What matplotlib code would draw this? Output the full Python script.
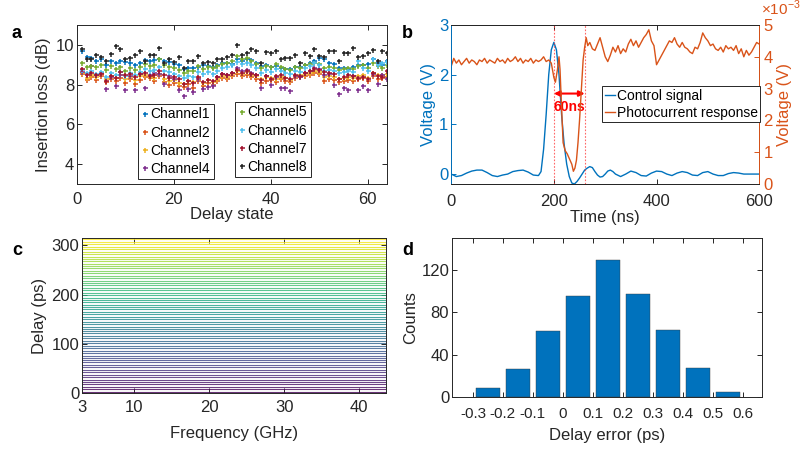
import numpy as np
import matplotlib
matplotlib.use("Agg")
import matplotlib.pyplot as plt

plt.rcParams['font.family'] = ['Liberation Sans', 'DejaVu Sans']
plt.rcParams['axes.unicode_minus'] = False
plt.rcParams['mathtext.fontset'] = 'custom'
plt.rcParams['mathtext.rm'] = 'Liberation Sans'

# ---- panel a : insertion loss of 8 channels over 64 delay states ----
ch1 = [9.7, 9.4, 9.35, 9.2, 9.3, 9.0, 9.2, 9.1, 9.2, 9.15, 9.1, 9.0, 9.1, 9.25, 9.2, 9.25,
       9.3, 9.2, 9.15, 9.05, 9.0, 8.8, 8.85, 8.85, 8.9, 9.0, 8.95, 8.9, 9.0, 9.1, 9.1, 9.05,
       9.3, 9.2, 9.3, 9.25, 9.1, 8.95, 9.0, 8.9, 8.95, 8.85, 8.8, 8.8, 8.9, 8.9, 9.0, 9.1,
       9.2, 9.35, 9.3, 9.1, 9.05, 8.85, 8.85, 8.8, 8.9, 9.0, 9.0, 9.05, 9.3, 9.1, 9.0, 9.2]
ch2 = [8.55, 8.25, 8.4, 8.25, 8.45, 8.15, 8.3, 8.2, 8.35, 8.1, 8.3, 8.05, 8.25, 8.4, 8.35, 8.2,
       8.45, 8.15, 8.0, 8.1, 7.95, 7.9, 8.05, 7.85, 8.2, 7.95, 8.1, 8.0, 8.2, 8.35, 8.3, 8.45,
       8.55, 8.45, 8.5, 8.4, 8.3, 8.1, 8.2, 8.25, 8.15, 8.3, 8.2, 8.15, 8.35, 8.4, 8.45, 8.5,
       8.6, 8.55, 8.2, 8.3, 8.25, 8.15, 8.2, 8.25, 8.2, 8.3, 8.35, 8.2, 8.45, 8.3, 8.35, 8.4]
ch3 = [8.6, 8.35, 8.5, 8.4, 8.55, 8.3, 8.45, 8.35, 8.5, 8.3, 8.4, 8.25, 8.45, 8.5, 8.4, 8.35,
       8.55, 8.3, 8.2, 8.25, 8.1, 8.05, 8.2, 8.15, 8.35, 8.1, 8.25, 8.15, 8.3, 8.45, 8.4, 8.55,
       8.7, 8.55, 8.65, 8.5, 8.45, 8.3, 8.4, 8.35, 8.3, 8.4, 8.35, 8.25, 8.45, 8.5, 8.55, 8.6,
       8.7, 8.65, 8.4, 8.45, 8.4, 8.3, 8.35, 8.4, 8.35, 8.45, 8.5, 8.35, 8.6, 8.5, 8.5, 8.55]
ch4 = [8.65, 8.55, 8.95, 8.5, 8.6, 7.8, 8.4, 7.95, 8.5, 7.75, 8.45, 7.75, 8.55, 7.85, 8.5, 8.6,
       8.55, 8.05, 8.45, 8.3, 7.75, 7.45, 7.8, 7.62, 8.3, 7.8, 7.9, 7.95, 8.4, 8.55, 8.5, 8.6,
       8.85, 8.7, 8.75, 8.6, 8.5, 7.85, 8.45, 8.0, 8.4, 7.85, 7.85, 7.7, 8.45, 8.4, 8.6, 8.7,
       8.85, 8.8, 8.5, 8.55, 8.0, 7.55, 7.85, 7.75, 8.45, 7.75, 7.95, 7.75, 8.55, 8.05, 8.5, 8.3]
ch5 = [9.1, 8.9, 8.95, 8.9, 9.0, 8.75, 8.95, 8.8, 8.9, 8.7, 8.85, 8.75, 8.9, 9.05, 8.95, 9.0,
       9.3, 9.0, 8.9, 8.85, 8.75, 8.6, 8.7, 8.7, 8.95, 8.8, 8.9, 8.85, 8.95, 9.05, 9.1, 9.2,
       9.45, 9.3, 9.35, 9.2, 9.05, 8.85, 8.95, 8.9, 9.05, 8.9, 8.8, 8.75, 8.9, 8.85, 9.0, 9.05,
       9.1, 9.05, 8.85, 8.9, 8.85, 8.75, 8.8, 8.85, 8.8, 8.95, 9.0, 8.85, 9.1, 8.95, 8.85, 9.0]
ch6 = [8.75, 8.6, 8.7, 8.55, 8.65, 8.4, 8.6, 8.5, 8.65, 8.45, 8.6, 8.5, 8.65, 8.8, 8.7, 8.75,
       8.9, 8.7, 8.65, 8.55, 8.45, 8.35, 8.45, 8.4, 8.65, 8.55, 8.65, 8.55, 8.7, 8.85, 8.9, 9.0,
       9.15, 9.05, 9.1, 9.0, 8.85, 8.6, 8.75, 8.65, 8.8, 8.7, 8.6, 8.55, 8.7, 8.65, 8.85, 8.95,
       9.1, 9.0, 8.7, 8.75, 8.7, 8.6, 8.65, 8.7, 8.65, 9.2, 8.85, 8.7, 9.3, 9.0, 9.1, 9.15]
ch7 = [8.8, 8.5, 8.6, 8.5, 8.55, 8.2, 8.45, 8.35, 8.65, 8.5, 8.55, 8.4, 8.55, 8.6, 8.45, 8.5,
       8.7, 8.5, 8.35, 8.4, 8.3, 8.05, 8.2, 8.1, 8.4, 8.15, 8.25, 8.2, 8.4, 8.55, 8.5, 8.6,
       8.75, 8.6, 8.7, 8.55, 8.5, 8.25, 8.45, 8.3, 8.45, 8.5, 8.35, 8.3, 8.5, 8.45, 8.6, 8.7,
       8.8, 8.75, 8.65, 8.6, 8.55, 8.3, 8.4, 8.5, 8.45, 8.35, 8.4, 8.3, 8.6, 8.45, 8.4, 8.7]
ch8 = [9.78, 9.28, 9.3, 9.5, 9.4, 9.2, 9.55, 9.95, 9.8, 9.28, 9.35, 9.5, 9.7, 9.2, 9.5, 9.5,
       9.83, 9.1, 9.28, 9.15, 9.4, 8.84, 9.2, 9.2, 9.45, 9.1, 9.15, 9.1, 9.28, 9.3, 9.4, 9.5,
       10.0, 9.5, 9.6, 9.78, 9.7, 9.1, 9.65, 9.6, 9.7, 9.28, 9.35, 9.35, 9.5, 9.1, 9.57, 9.45,
       9.78, 9.45, 9.4, 9.7, 9.7, 9.2, 9.6, 9.57, 9.85, 9.4, 9.45, 9.6, 9.75, 9.2, 9.7, 9.6]
channels = [ch1, ch2, ch3, ch4, ch5, ch6, ch7, ch8]
ch_names = ['Channel1', 'Channel2', 'Channel3', 'Channel4',
            'Channel5', 'Channel6', 'Channel7', 'Channel8']
ch_colors = ['#0072BD', '#D95319', '#EDB120', '#7E2F8E',
             '#77AC30', '#4DBEEE', '#A2142F', '#262626']

# ---- panel b : control signal and photocurrent response ----
t_ctrl = [0, 10, 20, 30, 40, 50, 60, 70, 80, 90, 100, 110, 120, 130, 140, 150, 160, 170,
          175, 180, 185, 190, 195, 200, 205, 210, 215, 220, 225, 230, 235, 240, 245, 250,
          255, 260, 265, 270, 275, 280, 285, 290, 295, 300, 305, 310, 315, 320, 330, 340,
          350, 360, 370, 380, 390, 400, 410, 420, 430, 440, 450, 460, 470, 480, 490, 500,
          510, 520, 530, 540, 550, 560, 570, 580, 590, 600]
v_ctrl = [0.0, -0.05, -0.03, 0.02, 0.06, 0.08, 0.08, 0.03, -0.03, -0.05, -0.02, 0.0, 0.05,
          0.07, 0.08, 0.04, -0.02, -0.03, 0.05, 0.5, 1.2, 2.0, 2.5, 2.65, 2.5, 2.0, 1.2, 0.6,
          0.2, -0.05, -0.18, -0.2, -0.15, -0.08, 0.0, 0.08, 0.12, 0.15, 0.13, 0.05, -0.02,
          -0.06, -0.05, 0.0, 0.06, 0.08, 0.05, 0.0, -0.05, 0.0, 0.06, 0.03, -0.03, -0.04,
          0.02, 0.06, 0.05, 0.0, -0.03, 0.02, 0.05, 0.03, -0.02, -0.03, 0.03, 0.05, 0.0,
          -0.03, -0.03, 0.01, 0.03, 0.02, 0.0, 0.0, 0.0, 0.0]

t_ph = [0, 5, 10, 15, 20, 25, 30, 35, 40, 45, 50, 55, 60, 65, 70, 75, 80, 85, 90, 95,
        100, 105, 110, 115, 120, 125, 130, 135, 140, 145, 150, 155, 160, 165, 170, 175,
        180, 185, 190, 195, 200, 203, 207, 210, 212, 215, 218, 222, 226, 230, 235, 238,
        241, 244, 247, 250, 254, 257, 260, 263, 266,
        270, 275, 280, 285, 290, 295, 300, 305, 310, 315, 320, 325, 330, 335, 340, 345,
        350, 355, 360, 365, 370, 375, 380, 385, 390, 395, 400, 405, 410, 415, 420, 425,
        430, 435, 440, 445, 450, 455, 460, 465, 470, 475, 480, 485, 490, 495, 500, 505,
        510, 515, 520, 525, 530, 535, 540, 545, 550, 555, 560, 565, 570, 575, 580, 585,
        590, 595, 600]
v_ph = [3.7, 3.95, 3.8, 3.9, 3.75, 3.85, 3.95, 3.8, 3.9, 3.85, 3.75, 3.9, 3.85, 3.95, 3.8,
        3.9, 3.85, 3.8, 3.95, 3.85, 3.9, 3.8, 3.95, 3.85, 3.9, 4.0, 3.85, 3.95, 3.8, 3.9,
        3.85, 3.95, 3.8, 3.9, 3.85, 3.9, 4.0, 3.85, 3.9, 3.8,
        3.35, 3.2, 3.6, 4.0, 3.6, 2.4, 1.3, 1.05, 0.95, 0.8, 0.62, 0.4, 0.5, 0.75, 1.3,
        2.0, 3.1, 3.9, 4.3, 4.6, 4.35,
        4.45, 4.25, 4.2, 4.4, 4.6, 4.3, 4.0, 3.85, 4.05, 4.3, 4.15, 4.35, 4.1, 4.25, 4.15,
        4.4, 4.55, 4.35, 4.5, 4.3, 4.45, 4.6, 4.7, 4.85, 4.5, 4.35, 3.75, 3.9, 4.05, 4.2,
        4.35, 4.5, 4.45, 4.6, 4.4, 4.3, 4.45, 4.3, 4.25, 4.15, 4.1, 4.3, 4.25, 4.45, 4.75,
        4.6, 4.5, 4.35, 4.4, 4.25, 4.2, 4.3, 4.15, 4.35, 4.25, 4.3, 4.2, 4.35, 4.1, 4.25,
        4.0, 4.2, 4.05, 4.15, 4.3, 4.45, 4.4]
marks_ns = [200, 260]

# ---- panel c : delay of every state vs frequency ----
delays = [3, 8, 13, 18, 23, 27, 32, 37, 42, 47, 52, 57, 62, 67, 72, 76, 81, 86, 91, 96,
          101, 106, 111, 116, 121, 126, 130, 135, 140, 145, 150, 155, 160, 165, 170, 175,
          179, 184, 189, 194, 199, 204, 209, 214, 219, 224, 228, 233, 238, 243, 248, 253,
          258, 263, 268, 273, 277, 282, 287, 292, 297, 302, 307, 312]
freq_span = [3, 43.6]

# ---- panel d : delay error histogram ----
err_centers = [-0.25, -0.15, -0.05, 0.05, 0.15, 0.25, 0.35, 0.45, 0.55]
err_counts = [8, 26, 62, 95, 129, 97, 63, 27, 5]

AX = '#262626'
BLUE = '#0072BD'
ORANGE = '#D95319'


def style(ax, top=True, right=True):
    ax.tick_params(direction='in', length=3.5, width=0.7, labelsize=12,
                   colors=AX, top=top, right=right)
    ax.tick_params(axis='y', pad=2)
    ax.tick_params(axis='x', pad=6)
    for s in ax.spines.values():
        s.set_color(AX)
        s.set_linewidth(0.7)


fig = plt.figure(figsize=(8, 4.54), dpi=100)

# a
ax = fig.add_axes([0.096, 0.5947, 0.388, 0.3503])
hs = []
for vals, col, name in zip(channels, ch_colors, ch_names):
    h, = ax.plot(np.arange(1, len(vals) + 1), vals, '+', color=col, ms=3.6, mew=1.1,
                 linestyle='none', label=name)
    hs.append(h)
ax.set_xlim(0, 64)
ax.set_ylim(3, 11)
ax.set_xticks([0, 20, 40, 60])
ax.set_yticks([4, 6, 8, 10])
style(ax)
ax.set_xlabel('Delay state', fontsize=12, color=AX, labelpad=0)
ax.set_ylabel('Insertion loss (dB)', fontsize=12, color=AX, labelpad=3)
leg_kw = dict(fontsize=10, handlelength=0.5, handletextpad=0.15, labelspacing=0.3,
              borderpad=0.25, borderaxespad=0, fancybox=False, framealpha=1,
              edgecolor=AX, markerscale=1.0)
leg1 = ax.legend(handles=hs[:4], loc='upper left', bbox_to_anchor=(0.197, 0.503), **leg_kw)
leg1.get_frame().set_linewidth(0.7)
ax.add_artist(leg1)
leg2 = ax.legend(handles=hs[4:], loc='upper left', bbox_to_anchor=(0.51, 0.516), **leg_kw)
leg2.get_frame().set_linewidth(0.7)
fig.text(0.021, 0.927, 'a', fontsize=13, fontweight='bold', ha='center', va='center')

# b
bx = fig.add_axes([0.564, 0.5947, 0.385, 0.3503])
bx2 = bx.twinx()
l1, = bx.plot(t_ctrl, v_ctrl, color=BLUE, lw=1.0, label='Control signal')
l2, = bx2.plot(t_ph, v_ph, color=ORANGE, lw=1.0, label='Photocurrent response')
bx.set_xlim(0, 600)
bx.set_ylim(-0.2, 3)
bx2.set_ylim(0, 5)
bx.set_xticks([0, 200, 400, 600])
bx.set_yticks([0, 1, 2, 3])
bx2.set_yticks([0, 1, 2, 3, 4, 5])
bx.tick_params(direction='in', length=3.5, width=0.7, labelsize=12, top=True, right=False)
bx.tick_params(axis='x', colors=AX, pad=7)
bx.tick_params(axis='y', colors=BLUE, pad=2)
bx2.tick_params(direction='in', length=3.5, width=0.7, labelsize=12, colors=ORANGE, pad=3)
for s in list(bx.spines.values()) + list(bx2.spines.values()):
    s.set_color(AX)
    s.set_linewidth(0.7)
bx2.spines['left'].set_color(BLUE)
bx2.spines['right'].set_color(ORANGE)
bx.set_xlabel('Time (ns)', fontsize=12, color=AX, labelpad=1)
bx.set_ylabel('Voltage (V)', fontsize=12, color=BLUE, labelpad=2)
bx2.set_ylabel('Voltage (V)', fontsize=12, color=ORANGE, labelpad=3)
bx2.text(1.005, 1.045, r'$\times10^{-3}$', transform=bx2.transAxes, color=ORANGE,
         fontsize=11, ha='left', va='bottom')
for m in marks_ns:
    bx.axvline(m, color='#FF4040', lw=0.8, ls=(0, (1.5, 1.5)), alpha=0.8)
bx.annotate('', xy=(marks_ns[0], 1.62), xytext=(marks_ns[1], 1.62),
            arrowprops=dict(arrowstyle='<|-|>', color='red', lw=1.5,
                            mutation_scale=8, shrinkA=0, shrinkB=0))
bx.text(230, 1.35, '60ns', color='red', fontsize=10, fontweight='bold',
        ha='center', va='center')
leg = bx2.legend(handles=[l1, l2], loc='upper left', bbox_to_anchor=(0.49, 0.616),
                 fontsize=10, handlelength=0.7, handletextpad=0.15, borderpad=0.2,
                 labelspacing=0.2, borderaxespad=0, fancybox=False, framealpha=1,
                 edgecolor=AX)
leg.get_frame().set_linewidth(0.7)
fig.text(0.509, 0.927, 'b', fontsize=13, fontweight='bold', ha='center', va='center')

# c
cx = fig.add_axes([0.1025, 0.1344, 0.38, 0.3414])
cmap = plt.get_cmap('viridis')
n = len(delays)
for i, d in enumerate(delays):
    cx.plot(freq_span, [d, d], color=cmap(i / (n - 1)), lw=0.8, alpha=0.8)
cx.set_xlim(3, 43.6)
cx.set_ylim(0, 315)
cx.set_xticks([3, 10, 20, 30, 40])
cx.set_yticks([0, 100, 200, 300])
style(cx)
cx.tick_params(axis='x', pad=5)
cx.set_xlabel('Frequency (GHz)', fontsize=12, color=AX, labelpad=8)
cx.set_ylabel('Delay (ps)', fontsize=12, color=AX, labelpad=3)
fig.text(0.021, 0.449, 'c', fontsize=13, fontweight='bold', ha='center', va='center')

# d
dx = fig.add_axes([0.565, 0.1256, 0.3875, 0.3502])
dx.bar(err_centers, err_counts, width=0.08, color=BLUE, edgecolor='#3a3a3a', lw=0.3)
dx.set_xlim(-0.37, 0.665)
dx.set_ylim(0, 150)
dx.set_xticks([-0.3, -0.2, -0.1, 0, 0.1, 0.2, 0.3, 0.4, 0.5, 0.6])
dx.set_xticklabels(['-0.3', '-0.2', '-0.1', '0', '0.1', '0.2', '0.3', '0.4', '0.5', '0.6'])
dx.set_yticks([0, 40, 80, 120])
style(dx)
dx.tick_params(axis='x', labelsize=11, pad=7)
dx.set_xlabel('Delay error (ps)', fontsize=12, color=AX, labelpad=5)
dx.set_ylabel('Counts', fontsize=12, color=AX, labelpad=2)
fig.text(0.51, 0.449, 'd', fontsize=13, fontweight='bold', ha='center', va='center')

fig.savefig('out.png', dpi=100)
